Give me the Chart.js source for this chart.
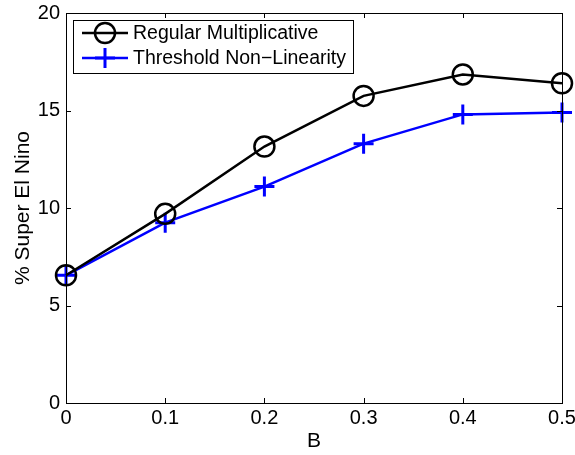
<!DOCTYPE html>
<html>
<head>
<meta charset="utf-8">
<script src="https://cdn.jsdelivr.net/npm/chart.js@4.4.1/dist/chart.umd.min.js"></script>
<style>
  html, body { margin: 0; padding: 0; background: #fff; }
  #wrap { width: 575px; height: 455px; }
</style>
</head>
<body>
<div id="wrap"><canvas id="c" width="575" height="455"></canvas></div>
<script>
// B parameter values and percentage of super El Nino events
const bValues = [0, 0.1, 0.2, 0.3, 0.4, 0.5];
const regularMultiplicative = [6.55, 9.7, 13.15, 15.75, 16.85, 16.4];
const thresholdNonLinearity = [6.55, 9.25, 11.1, 13.3, 14.8, 14.9];
const xTicks = [0, 0.1, 0.2, 0.3, 0.4, 0.5];
const yTicks = [0, 5, 10, 15, 20];

const FONT = '"Liberation Sans", Arial, Helvetica, sans-serif';

function toPoints(xs, ys) {
  return xs.map((x, i) => ({ x: x, y: ys[i] }));
}

// Frame with inward tick marks on all four sides
const framePlugin = {
  id: 'frame',
  afterDatasetsDraw(chart) {
    const { ctx, chartArea: a, scales } = chart;
    const L = 5;
    ctx.save();
    ctx.strokeStyle = '#000';
    ctx.lineWidth = 1;
    ctx.beginPath();
    xTicks.forEach(v => {
      const px = Math.round(scales.x.getPixelForValue(v)) + 0.5;
      ctx.moveTo(px, a.bottom); ctx.lineTo(px, a.bottom - L);
      ctx.moveTo(px, a.top); ctx.lineTo(px, a.top + L);
    });
    yTicks.forEach(v => {
      const py = Math.round(scales.y.getPixelForValue(v)) + 0.5;
      ctx.moveTo(a.left, py); ctx.lineTo(a.left + L, py);
      ctx.moveTo(a.right, py); ctx.lineTo(a.right - L, py);
    });
    ctx.stroke();
    ctx.strokeRect(Math.round(a.left) + 0.5, Math.round(a.top) + 0.5,
                   Math.round(a.right - a.left), Math.round(a.bottom - a.top));
    ctx.restore();
  }
};

// Boxed legend showing line + marker samples
const boxLegendPlugin = {
  id: 'boxLegend',
  afterDraw(chart) {
    const { ctx, chartArea: a } = chart;
    const x0 = a.left + 7, y0 = a.top + 7, w = 280, h = 53;
    ctx.save();
    ctx.fillStyle = '#fff';
    ctx.fillRect(x0, y0, w, h);
    ctx.strokeStyle = '#000';
    ctx.lineWidth = 1;
    ctx.strokeRect(x0 + 0.5, y0 + 0.5, w, h);
    chart.data.datasets.forEach((ds, i) => {
      const cy = y0 + 13 + i * 25;
      const lx0 = x0 + 9, lx1 = x0 + 55, mx = (lx0 + lx1) / 2;
      ctx.strokeStyle = ds.borderColor;
      ctx.lineWidth = ds.borderWidth;
      ctx.beginPath();
      ctx.moveTo(lx0, cy); ctx.lineTo(lx1, cy);
      ctx.stroke();
      ctx.lineWidth = ds.pointBorderWidth;
      ctx.beginPath();
      if (ds.pointStyle === 'circle') {
        ctx.arc(mx, cy, ds.pointRadius, 0, Math.PI * 2);
      } else {
        ctx.moveTo(mx - ds.pointRadius, cy); ctx.lineTo(mx + ds.pointRadius, cy);
        ctx.moveTo(mx, cy - ds.pointRadius); ctx.lineTo(mx, cy + ds.pointRadius);
      }
      ctx.stroke();
      ctx.fillStyle = '#000';
      ctx.font = '19.5px ' + FONT;
      ctx.textBaseline = 'middle';
      ctx.textAlign = 'left';
      ctx.fillText(ds.label, x0 + 60, cy + 1);
    });
    ctx.restore();
  }
};

new Chart(document.getElementById('c'), {
  type: 'line',
  data: {
    datasets: [
      {
        label: 'Regular Multiplicative',
        data: toPoints(bValues, regularMultiplicative),
        borderColor: '#000000',
        backgroundColor: 'transparent',
        borderWidth: 2.5,
        pointStyle: 'circle',
        pointRadius: 10,
        pointBorderWidth: 2.5,
        pointBackgroundColor: 'transparent',
        pointBorderColor: '#000000',
        tension: 0,
        clip: false
      },
      {
        label: 'Threshold Non\u2212Linearity',
        data: toPoints(bValues, thresholdNonLinearity),
        borderColor: '#0000ff',
        backgroundColor: 'transparent',
        borderWidth: 2.5,
        pointStyle: 'cross',
        pointRadius: 10,
        pointBorderWidth: 3,
        pointBackgroundColor: 'transparent',
        pointBorderColor: '#0000ff',
        tension: 0,
        clip: false
      }
    ]
  },
  options: {
    responsive: false,
    animation: false,
    events: [],
    layout: { padding: { left: 0, top: 13, right: 13, bottom: 0 } },
    plugins: { legend: { display: false }, tooltip: { enabled: false } },
    scales: {
      x: {
        type: 'linear',
        min: 0, max: 0.5,
        afterBuildTicks(scale) { scale.ticks = xTicks.map(v => ({ value: v })); },
        afterFit(scale) { scale.height = 52; scale.paddingLeft = 0; scale.paddingRight = 0; },
        grid: { display: false, drawTicks: false },
        border: { display: false },
        ticks: {
          color: '#000',
          font: { family: FONT, size: 20 },
          padding: 3,
          maxRotation: 0,
          callback: v => String(v)
        },
        title: {
          display: true, text: 'B', color: '#000',
          font: { family: FONT, size: 21 },
          padding: { top: 0, bottom: 1 }
        }
      },
      y: {
        min: 0, max: 20,
        afterBuildTicks(scale) { scale.ticks = yTicks.map(v => ({ value: v })); },
        afterFit(scale) { scale.width = 66; scale.paddingTop = 0; scale.paddingBottom = 0; },
        grid: { display: false, drawTicks: false },
        border: { display: false },
        ticks: {
          color: '#000',
          font: { family: FONT, size: 20 },
          padding: 6,
          callback: v => String(v)
        },
        title: {
          display: true, text: '% Super El Nino', color: '#000',
          font: { family: FONT, size: 21 },
          padding: { top: 11, bottom: 0 }
        }
      }
    }
  },
  plugins: [framePlugin, boxLegendPlugin]
});
</script>
</body>
</html>
